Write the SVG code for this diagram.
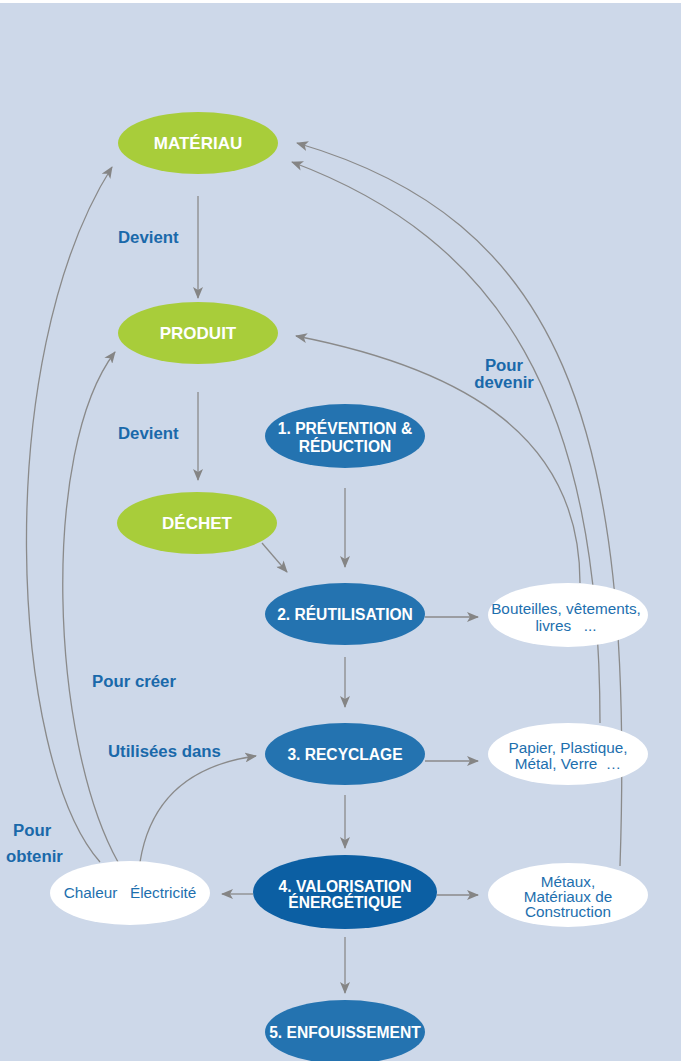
<svg xmlns="http://www.w3.org/2000/svg" width="681" height="1061" viewBox="0 0 681 1061">
<defs>
<marker id="ah" viewBox="0 0 12 10" refX="11" refY="5" markerWidth="12" markerHeight="10" markerUnits="userSpaceOnUse" orient="auto">
<path d="M0,0 L12,5 L0,10 L3,5 z" fill="#858585"/>
</marker>
<style>
.c{fill:none;stroke:#8a8a8a;stroke-width:1.3;marker-end:url(#ah)}
.g{fill:#a8cd3a}
.b{fill:#2473b0}
.d{fill:#0c5fa3}
.w{fill:#ffffff}
.tw{font-family:"Liberation Sans",Arial,sans-serif;font-weight:bold;font-size:17px;fill:#ffffff;text-anchor:middle}
.ts{font-size:15.6px}
.tb{font-family:"Liberation Sans",Arial,sans-serif;font-size:15.3px;fill:#1d6fae;text-anchor:middle}
.lb{font-family:"Liberation Sans",Arial,sans-serif;font-weight:bold;font-size:16.8px;fill:#1a69aa}
</style>
</defs>
<rect x="0" y="0" width="681" height="1061" fill="#cdd8e9"/>
<rect x="0" y="0" width="681" height="3" fill="#ffffff"/>
<g id="connectors">
<path class="c" d="M198,196 L198,298"/>
<path class="c" d="M198,392 L198,480"/>
<path class="c" d="M262,543 L287,572"/>
<path class="c" d="M345,488 L345,567"/>
<path class="c" d="M345,657 L345,707"/>
<path class="c" d="M345,795 L345,848"/>
<path class="c" d="M345,937 L345,993"/>
<path class="c" d="M425,617 L478,617"/>
<path class="c" d="M425,761 L478,761"/>
<path class="c" d="M437,895 L478,895"/>
<path class="c" d="M253,894 L222,894"/>
<path class="c" d="M140,862 C150,800 190,765 256,756"/>
<path class="c" d="M118,862 C50,740 40,450 115,352"/>
<path class="c" d="M100,862 C10,760 -10,360 112,167"/>
<path class="c" d="M580,583 C580,440 470,370 296,336"/>
<path class="c" d="M600,723 C600,400 500,240 292,162"/>
<path class="c" d="M620,866 C635,420 560,220 297,143"/>
</g>
<g id="materiau"><ellipse class="g" cx="198" cy="143" rx="80" ry="31"/><text class="tw" x="198" y="149">MATÉRIAU</text></g>
<g id="produit"><ellipse class="g" cx="198" cy="333" rx="80" ry="31"/><text class="tw" x="198" y="339">PRODUIT</text></g>
<g id="dechet"><ellipse class="g" cx="197" cy="523" rx="80" ry="31"/><text class="tw" x="197" y="529">DÉCHET</text></g>
<g id="prevention"><ellipse class="b" cx="345" cy="436" rx="80" ry="32"/><text class="tw ts" x="345" y="434">1. PRÉVENTION &amp;</text><text class="tw ts" x="345" y="452">RÉDUCTION</text></g>
<g id="reutilisation"><ellipse class="b" cx="345" cy="614" rx="80" ry="31"/><text class="tw ts" x="345" y="620">2. RÉUTILISATION</text></g>
<g id="recyclage"><ellipse class="b" cx="345" cy="754" rx="80" ry="31"/><text class="tw ts" x="345" y="760">3. RECYCLAGE</text></g>
<g id="valorisation"><ellipse class="d" cx="345" cy="892" rx="92" ry="37"/><text class="tw ts" x="345" y="892">4. VALORISATION</text><text class="tw ts" x="345" y="908">ÉNERGÉTIQUE</text></g>
<g id="enfouissement"><ellipse class="b" cx="345" cy="1032" rx="80" ry="32"/><text class="tw ts" x="345" y="1038">5. ENFOUISSEMENT</text></g>
<g id="bouteilles"><ellipse class="w" cx="568" cy="615" rx="80" ry="32"/><text class="tb" x="566" y="614">Bouteilles, vêtements,</text><text class="tb" x="566" y="631" xml:space="preserve">livres   ...</text></g>
<g id="papier"><ellipse class="w" cx="568" cy="754" rx="80" ry="31"/><text class="tb" x="568" y="753">Papier, Plastique,</text><text class="tb" x="568" y="769" xml:space="preserve">Métal, Verre  …</text></g>
<g id="metaux"><ellipse class="w" cx="568" cy="895" rx="80" ry="32"/><text class="tb" x="568" y="887">Métaux,</text><text class="tb" x="568" y="902">Matériaux de</text><text class="tb" x="568" y="917">Construction</text></g>
<g id="chaleur"><ellipse class="w" cx="130" cy="893" rx="80" ry="32"/><text class="tb" x="130" y="898" xml:space="preserve">Chaleur   Électricité</text></g>
<g id="labels">
<text class="lb" x="118" y="243">Devient</text>
<text class="lb" x="118" y="439">Devient</text>
<text class="lb" x="92" y="687">Pour créer</text>
<text class="lb" x="108" y="757">Utilisées dans</text>
<text class="lb" x="13" y="836">Pour</text>
<text class="lb" x="6" y="862">obtenir</text>
<text class="lb" x="504" y="371" text-anchor="middle">Pour</text>
<text class="lb" x="504" y="388" text-anchor="middle">devenir</text>
</g>
</svg>
